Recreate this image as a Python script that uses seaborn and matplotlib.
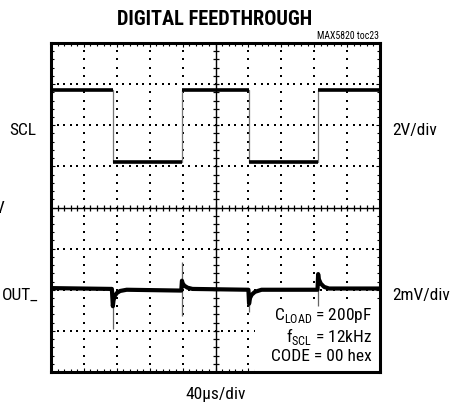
import numpy as np
import pandas as pd
import matplotlib
matplotlib.use("Agg")
import matplotlib.pyplot as plt
from matplotlib import font_manager
from matplotlib.patches import Rectangle
import seaborn as sns

# scope screen: 10 x 8 divisions, centre at (5, 0)
# SCL square wave (div units)
scl_t = [0, 1.88, 1.88, 3.98, 3.98, 6.02, 6.02, 8.12, 8.12, 10]
scl_v = [2.85, 2.85, 1.10, 1.10, 2.85, 2.85, 1.10, 1.10, 2.85, 2.85]

# OUT_ trace, feedthrough glitches at each SCL edge
out_t = [0, 1.85, 1.88, 1.90, 1.94, 2.00, 2.10, 2.30,
         3.96, 3.98, 4.00, 4.05, 4.15, 4.30,
         6.00, 6.02, 6.05, 6.10, 6.20, 6.40,
         8.10, 8.12, 8.14, 8.20, 8.30, 8.45, 10]
out_v = [-1.96, -1.98, -2.40, -2.26, -2.15, -2.08, -2.03, -2.00,
         -2.02, -1.78, -1.84, -1.90, -1.95, -1.98,
         -2.00, -2.34, -2.20, -2.12, -2.05, -2.00,
         -2.00, -1.62, -1.74, -1.85, -1.93, -1.97, -1.97]

# thin fast part of the glitches
spike_t = [1.88, 3.98, 6.02, 8.12]
spike_top = [-2.00, -1.32, -2.00, -1.56]
spike_bot = [-2.95, -2.63, -2.54, -2.39]

notes = ["C$_\\mathrm{LOAD}$ = 200pF", "f$_\\mathrm{SCL}$ = 12kHz", "CODE = 00 hex"]

sns.set_theme(style="white")
names = {f.name for f in font_manager.fontManager.ttflist}
fam = "Roboto Condensed" if "Roboto Condensed" in names else "Liberation Sans"
plt.rcParams['font.family'] = [fam, 'DejaVu Sans']
plt.rcParams['mathtext.fontset'] = 'custom'
plt.rcParams['mathtext.rm'] = fam
plt.rcParams['text.color'] = 'black'
big = 12.5 if fam == "Roboto Condensed" else 10.8

W, H = 451, 408
fig = plt.figure(figsize=(W / 100, H / 100), dpi=100)
ax = fig.add_axes([51 / W, 1 - 372 / H, 329 / W, 329 / H])
ax.set_xlim(0, 10)
ax.set_ylim(-4, 4)

# dotted graticule
for gx in [1, 2, 3, 4, 6, 7, 8, 9]:
    ys = np.arange(-4, 4.01, 0.2)
    ax.scatter(np.full_like(ys, gx), ys, s=0.8, color="black", marker="s", lw=0, zorder=1)
for gy in [-3, -2, -1, 1, 2, 3]:
    xs = np.arange(0, 10.01, 0.2)
    ax.scatter(xs, np.full_like(xs, gy), s=0.8, color="black", marker="s", lw=0, zorder=1)

# centre axes with ticks
ax.axhline(0, color="black", lw=1.0, zorder=4)
ax.axvline(5, color="black", lw=1.0, zorder=4)
tx = np.arange(0, 10.01, 0.2)
ty = np.arange(-4, 4.01, 0.2)
ax.plot(tx, np.zeros_like(tx), ls="none", marker="|", ms=4, mew=0.9, color="black", zorder=4)
ax.plot(np.full_like(ty, 5), ty, ls="none", marker="_", ms=5, mew=0.9, color="black", zorder=4)

# white box behind the notes
ax.add_patch(Rectangle((6.2, -4), 3.8, 1.72, facecolor="white", edgecolor="none", zorder=2))

scl = pd.DataFrame({"t": scl_t, "v": scl_v})
out = pd.DataFrame({"t": out_t, "v": out_v})
sns.lineplot(data=scl, x="t", y="v", sort=False, estimator=None, color="#777777", lw=0.9, ax=ax, zorder=3)
ax.hlines(scl_v[::2], scl_t[::2], scl_t[1::2], color="black", lw=2.6, zorder=3)
ax.vlines(spike_t, spike_bot, spike_top, color="#666666", lw=0.9, zorder=3)
sns.lineplot(data=out, x="t", y="v", sort=False, estimator=None, color="black", lw=3.0, ax=ax, zorder=3)

ax.set_xlabel("")
ax.set_ylabel("")
ax.set_xticks(range(11))
ax.set_yticks(range(-4, 5))
ax.set_xticks(np.arange(0, 10.01, 0.2), minor=True)
ax.set_yticks(np.arange(-4, 4.01, 0.2), minor=True)
ax.tick_params(which="both", direction="in", top=True, right=True, bottom=True, left=True,
               labelbottom=False, labelleft=False, color="black", width=0.8)
ax.tick_params(which="major", length=3)
ax.tick_params(which="minor", length=2)
for sp in ax.spines.values():
    sp.set_linewidth(2.2)
    sp.set_color("black")
    sp.set_zorder(5)

for i, s in enumerate(notes):
    ax.text(9.76, -2.63 - 0.5 * i, s, ha="right", va="center", fontsize=big, zorder=6)

fig.text(215 / W, 1 - 25 / H, "DIGITAL FEEDTHROUGH", ha="center", va="baseline",
         fontsize=big + 2.2, fontweight="black")
fig.text(379 / W, 1 - 39 / H, "MAX5820 toc23", ha="right", va="baseline", fontsize=7)
fig.text(36 / W, 1 - 135 / H, "SCL", ha="right", va="baseline", fontsize=big)
fig.text(392 / W, 1 - 135 / H, "2V/div", ha="left", va="baseline", fontsize=big)
fig.text(38 / W, 1 - 300 / H, "OUT_", ha="right", va="baseline", fontsize=big)
fig.text(392 / W, 1 - 300 / H, "2mV/div", ha="left", va="baseline", fontsize=big)
fig.text(4 / W, 1 - 213 / H, "V", ha="right", va="baseline", fontsize=big)
fig.text(216 / W, 1 - 399 / H, "40μs/div", ha="center", va="baseline", fontsize=big)

fig.savefig("out.png", dpi=100)
